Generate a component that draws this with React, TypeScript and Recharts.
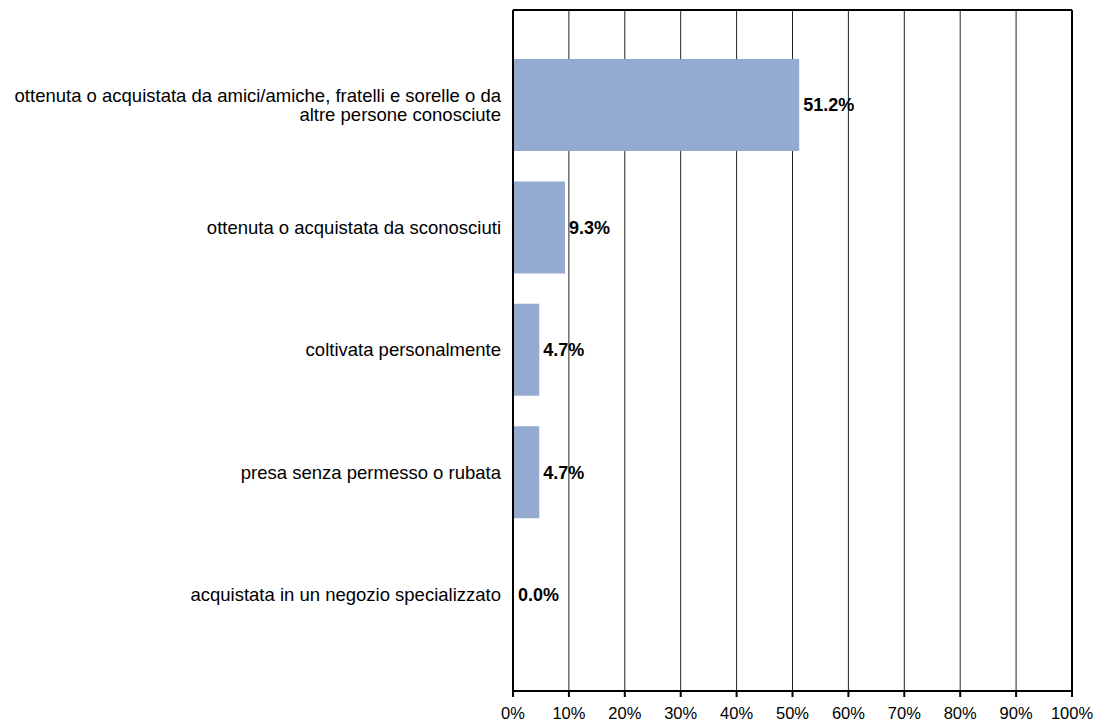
import { Bar, CartesianGrid, ComposedChart, LabelList, Line, XAxis, YAxis } from "recharts";

const CATEGORIES = [
  "ottenuta o acquistata da amici/amiche, fratelli e sorelle o da\naltre persone conosciute",
  "ottenuta o acquistata da sconosciuti",
  "coltivata personalmente",
  "presa senza permesso o rubata",
  "acquistata in un negozio specializzato",
];
const VALUES = [51.2, 9.3, 4.7, 4.7, 0.0];
const X_TICKS = [0, 10, 20, 30, 40, 50, 60, 70, 80, 90, 100];

const data = CATEGORIES.map((name, i) => ({ name, value: VALUES[i] }));

const FONT = "'Liberation Sans', Arial, sans-serif";

function CategoryTick(props: any) {
  const { x, y, payload } = props;
  const lines = String(payload.value).split("\n");
  const lineHeight = 19;
  const startY = y - ((lines.length - 1) * lineHeight) / 2;
  return (
    <text x={x} y={startY} textAnchor="end" fontSize={18.5} fontFamily={FONT} fill="#000">
      {lines.map((line, i) => (
        <tspan key={i} x={x} dy={i === 0 ? "0.35em" : lineHeight}>
          {line}
        </tspan>
      ))}
    </text>
  );
}

export default function App() {
  return (
    <div style={{ position: "absolute", left: 0, top: 0, width: 1096, height: 722, background: "#fff" }}>
      <ComposedChart
        width={1096}
        height={722}
        data={data}
        layout="vertical"
        margin={{ top: 9, right: 23, bottom: 0, left: 0 }}
      >
        <CartesianGrid horizontal={false} stroke="#222" strokeWidth={1} />
        <XAxis
          type="number"
          domain={[0, 100]}
          ticks={X_TICKS}
          tickFormatter={(v) => `${v}%`}
          height={31}
          tickSize={6}
          tickMargin={10}
          axisLine={{ stroke: "#000", strokeWidth: 2 }}
          tickLine={{ stroke: "#000", strokeWidth: 2 }}
          tick={{ fill: "#000", fontSize: 16.5, fontFamily: FONT }}
          interval={0}
        />
        {/* invisible axes used only to draw the top and right frame */}
        <XAxis
          xAxisId="top"
          type="number"
          orientation="top"
          domain={[0, 100]}
          height={1}
          tick={false}
          tickLine={false}
          axisLine={{ stroke: "#000", strokeWidth: 2 }}
        />
        <YAxis
          type="category"
          dataKey="name"
          width={513}
          tickSize={0}
          tickMargin={12}
          tickLine={false}
          axisLine={{ stroke: "#000", strokeWidth: 2 }}
          tick={<CategoryTick />}
          padding={{ top: 34, bottom: 35 }}
          interval={0}
        />
        <YAxis
          yAxisId="right"
          type="category"
          dataKey="name"
          orientation="right"
          width={1}
          tick={false}
          tickLine={false}
          axisLine={{ stroke: "#000", strokeWidth: 2 }}
        />
        <Bar dataKey="value" fill="#95aad1" barSize={92} minPointSize={1} isAnimationActive={false}>
          <LabelList
            dataKey="value"
            position="right"
            offset={4}
            formatter={(v: any) => `${Number(v).toFixed(1)}%`}
            style={{ fill: "#000", fontSize: 18, fontWeight: "bold", fontFamily: FONT }}
          />
        </Bar>
        <Line
          dataKey="value"
          xAxisId="top"
          yAxisId="right"
          stroke="none"
          dot={false}
          activeDot={false}
          legendType="none"
          isAnimationActive={false}
        />
      </ComposedChart>
    </div>
  );
}
